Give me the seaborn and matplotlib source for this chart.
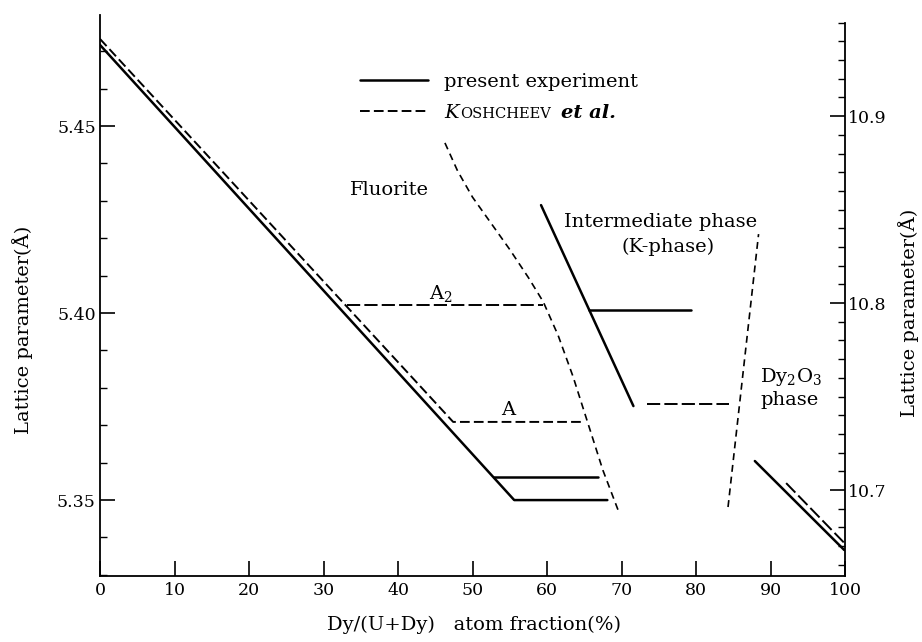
import matplotlib
matplotlib.use("Agg")
import matplotlib.pyplot as plt
import seaborn as sns
from matplotlib.lines import Line2D
from matplotlib.ticker import MultipleLocator, FormatStrFormatter, NullLocator

# ---------------- data (left axis: fluorite lattice parameter, A) ----------------
# present experiment, fluorite phase
fl_x = [0.0, 55.6, 68.1]
fl_y = [5.4717, 5.3500, 5.3500]
fl2_x = [52.9, 66.9]
fl2_y = [5.3562, 5.3562]
# Koshcheev et al., fluorite phase
kf_x = [0.0, 47.4, 64.9]
kf_y = [5.4733, 5.3709, 5.3709]
a2_x = [33.2, 59.5]
a2_y = [5.4021, 5.4021]
# Koshcheev et al., fluorite phase boundary (curve)
bc_x = [46.3, 48.0, 50.0, 52.5, 55.0, 57.5, 59.5, 61.5, 63.5, 65.5, 67.5, 69.7]
bc_y = [5.4455, 5.4380, 5.4310, 5.4240, 5.4170, 5.4095, 5.4030, 5.3940, 5.3830,
        5.3705, 5.3580, 5.3465]

# ---------------- data (right axis: K-phase / Dy2O3 lattice parameter, A) ----------------
k_x = [59.2, 71.6]
k_y = [10.8524, 10.7449]
kh_x = [65.7, 79.3]
kh_y = [10.7963, 10.7963]
kd_x = [73.4, 84.4]
kd_y = [10.7460, 10.7460]
kb_x = [84.3, 88.4]
kb_y = [10.6909, 10.8369]
dy_x = [87.9, 99.9]
dy_y = [10.7155, 10.6679]
dyd_x = [92.1, 99.9]
dyd_y = [10.7037, 10.6717]

x_ticks = [0, 10, 20, 30, 40, 50, 60, 70, 80, 90, 100]
yl_ticks = [5.35, 5.40, 5.45]
yr_ticks = [10.7, 10.8, 10.9]

# ---------------- style ----------------
sns.set_theme(style="ticks")
plt.rcParams['font.family'] = ['DejaVu Serif']
plt.rcParams['mathtext.fontset'] = 'dejavuserif'
plt.rcParams['lines.scale_dashes'] = False
for k in ['text.color', 'axes.labelcolor', 'xtick.color', 'ytick.color', 'axes.edgecolor']:
    plt.rcParams[k] = 'black'
plt.rcParams['axes.linewidth'] = 1.3

FS_TICK = 12.5
FS = 14
SOLID = '-'
DASH_MAIN = (0, (7, 3))
DASH_LONG = (0, (9.5, 3))
DASH_SHORT = (0, (5, 3.5))

fig = plt.figure(figsize=(9.22, 6.42), dpi=100)
ax = fig.add_axes([100 / 922, 1 - 576 / 642, 745 / 922, 561 / 642])
ax2 = ax.twinx()


def seg(a, x, y, ls, lw):
    sns.lineplot(x=x, y=y, ax=a, color='black', linestyle=ls, linewidth=lw,
                 sort=False, estimator=None, legend=False)


# left-axis curves
seg(ax, fl_x, fl_y, SOLID, 1.8)
seg(ax, fl2_x, fl2_y, SOLID, 1.8)
seg(ax, kf_x, kf_y, DASH_MAIN, 1.4)
seg(ax, a2_x, a2_y, DASH_LONG, 1.4)
seg(ax, bc_x, bc_y, DASH_SHORT, 1.2)
# right-axis curves
seg(ax2, k_x, k_y, SOLID, 1.8)
seg(ax2, kh_x, kh_y, SOLID, 1.8)
seg(ax2, kd_x, kd_y, DASH_LONG, 1.4)
seg(ax2, kb_x, kb_y, DASH_SHORT, 1.2)
seg(ax2, dy_x, dy_y, SOLID, 1.8)
seg(ax2, dyd_x, dyd_y, DASH_LONG, 1.4)

ax.set_xlim(0, 100)
ax.set_ylim(5.3297, 5.4797)
ax2.set_ylim(10.6540, 10.9541)

# spines
ax.spines['top'].set_visible(False)
ax.spines['right'].set_visible(False)
for s in ['top', 'left', 'bottom']:
    ax2.spines[s].set_visible(False)
ax2.spines['right'].set_bounds(10.6540, 10.95)
ax2.spines['right'].set_linewidth(1.3)

# ticks
ax.set_xticks(x_ticks)
ax.set_xticklabels([str(t) for t in x_ticks])
ax.xaxis.set_minor_locator(NullLocator())
ax.set_yticks(yl_ticks)
ax.yaxis.set_major_formatter(FormatStrFormatter('%.2f'))
ax.yaxis.set_minor_locator(MultipleLocator(0.01))
ax.tick_params(axis='both', which='major', direction='in', length=11, width=1.2,
               labelsize=FS_TICK, top=False, right=False)
ax.tick_params(axis='y', which='minor', direction='in', length=5, width=1.0, right=False)
ax.tick_params(axis='x', pad=4)
ax.tick_params(axis='y', pad=3)

ax2.set_yticks(yr_ticks)
ax2.yaxis.set_major_formatter(FormatStrFormatter('%.1f'))
ax2.yaxis.set_minor_locator(MultipleLocator(0.01))
ax2.tick_params(axis='y', which='major', direction='in', length=11, width=1.2,
                labelsize=FS_TICK, pad=2)
ax2.tick_params(axis='y', which='minor', direction='in', length=5, width=1.0)

# axis labels
ax.set_xlabel('Dy/(U+Dy)   atom fraction(%)', fontsize=FS)
ax.xaxis.set_label_coords(0.502, -0.0873)
ax.xaxis.label.set_va('center')
ax.set_ylabel('Lattice parameter(Å)', fontsize=FS)
ax.yaxis.set_label_coords(-0.1034, 0.4385)
ax.yaxis.label.set_va('center')
ax2.set_ylabel('Lattice parameter(Å)', fontsize=FS)
ax2.yaxis.set_label_coords(1.0846, 0.469)
ax2.yaxis.label.set_va('center')

# region labels
ax.text(38.9, 5.4329, 'Fluorite', ha='center', va='center', fontsize=FS)
ax.text(45.8, 5.4053, 'A$_2$', ha='center', va='center', fontsize=FS)
ax.text(54.8, 5.3741, 'A', ha='center', va='center', fontsize=FS)
ax.text(75.3, 5.4243, 'Intermediate phase', ha='center', va='center', fontsize=FS)
ax.text(76.2, 5.4176, '(K-phase)', ha='center', va='center', fontsize=FS)
ax.text(92.8, 5.3829, 'Dy$_2$O$_3$', ha='center', va='center', fontsize=FS)
ax.text(92.6, 5.3767, 'phase', ha='center', va='center', fontsize=FS)

# legend
handles = [Line2D([], [], color='black', lw=1.8, linestyle=SOLID),
           Line2D([], [], color='black', lw=1.4, linestyle=DASH_MAIN)]
leg = ax.legend(handles, ['present experiment', 'K'], loc='upper left',
                bbox_to_anchor=(360 / 922, 1 - 73 / 642), bbox_transform=fig.transFigure,
                frameon=False, fontsize=FS, handlelength=3.5, handletextpad=0.82,
                labelspacing=0.65, borderpad=0, borderaxespad=0)
leg.set_zorder(5)
leg.get_texts()[1].set_style('italic')
t1 = ax.annotate('OSHCHEEV', xy=(1, 0), xycoords=leg.get_texts()[1],
                 xytext=(1, 0.7), textcoords='offset points', ha='left', va='bottom',
                 fontsize=10.5, zorder=10)
t2 = ax.annotate('et al.', xy=(1, 0), xycoords=t1, xytext=(7, -0.7), textcoords='offset points',
                 ha='left', va='bottom', fontsize=FS, style='italic', weight='bold', zorder=10)

fig.savefig('out.png', dpi=100)
